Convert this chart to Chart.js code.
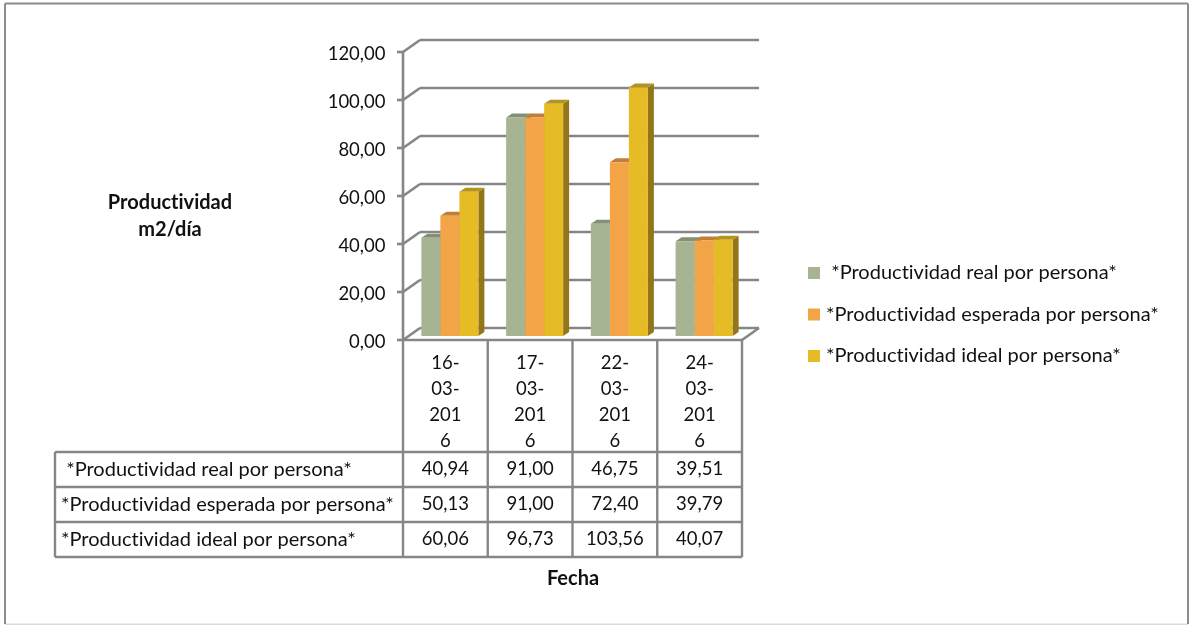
<!DOCTYPE html>
<html>
<head>
<meta charset="utf-8">
<style>
    html, body { margin: 0; padding: 0; background: #fff; }
    canvas { display: block; }
</style>
<script src="https://cdn.jsdelivr.net/npm/chart.js@4"></script>
</head>
<body>
<canvas id="prodChart" width="1190" height="625"></canvas>
<script>
// tick labels are wrapped the same way as the original
const categories = [
    ["16-", "03-", "201", "6"],
    ["17-", "03-", "201", "6"],
    ["22-", "03-", "201", "6"],
    ["24-", "03-", "201", "6"],
];
const seriesNames = [
    " *Productividad real por persona*",
    "*Productividad esperada por persona*",
    "*Productividad ideal por persona*",
];
const realValues = [40.94, 91.0, 46.75, 39.51];
const esperadaValues = [50.13, 91.0, 72.4, 39.79];
const idealValues = [60.06, 96.73, 103.56, 40.07];

const LINE = "#868686";
const TEXT = "#111111";
const FONT = "Lato";
const fmt = (v) => v.toFixed(2).replace(".", ",");

// bars sit between the front plane and the back wall
const FRONT = { x: -4.5, y: 4 };
const BACK = { x: 12.5, y: -8 };
const DEPTH = { x: 6, y: -4 };

function seg(ctx, x1, y1, x2, y2) {
    ctx.beginPath();
    ctx.moveTo(x1, y1);
    ctx.lineTo(x2, y2);
    ctx.stroke();
}

function poly(ctx, pts, color) {
    ctx.fillStyle = color;
    ctx.beginPath();
    pts.forEach((p, i) => (i ? ctx.lineTo(p[0], p[1]) : ctx.moveTo(p[0], p[1])));
    ctx.closePath();
    ctx.fill();
}

const box3d = {
    id: "box3d",
    beforeDatasetsDraw(chart) {
        const { ctx, chartArea, scales } = chart;
        const left = chartArea.left;
        const right = chartArea.right;

        // walls, floor and vertical axis
        ctx.save();
        ctx.strokeStyle = LINE;
        ctx.lineWidth = 2.6;
        scales.y.ticks.forEach((t) => {
            const py = scales.y.getPixelForValue(t.value);
            seg(ctx, left + FRONT.x - 6, py + FRONT.y, left + FRONT.x, py + FRONT.y);
            seg(ctx, left + FRONT.x, py + FRONT.y, left + BACK.x, py + BACK.y);
            seg(ctx, left + BACK.x, py + BACK.y, right + BACK.x, py + BACK.y);
        });
        const y0 = scales.y.getPixelForValue(0);
        const yMax = scales.y.getPixelForValue(120);
        seg(ctx, left + FRONT.x, yMax + FRONT.y, left + FRONT.x, y0 + FRONT.y);
        seg(ctx, left + FRONT.x, y0 + FRONT.y, right + FRONT.x, y0 + FRONT.y);
        seg(ctx, right + FRONT.x, y0 + FRONT.y, right + BACK.x, y0 + BACK.y);
        ctx.restore();

        // side and top faces, the library paints the fronts over them
        chart.data.datasets.forEach((ds, i) => {
            chart.getDatasetMeta(i).data.forEach((bar) => {
                const x1 = bar.x - bar.width / 2;
                const x2 = bar.x + bar.width / 2;
                poly(ctx, [[x2, bar.y], [x2 + DEPTH.x, bar.y + DEPTH.y], [x2 + DEPTH.x, bar.base + DEPTH.y], [x2, bar.base]], ds.sideColor);
                poly(ctx, [[x1, bar.y], [x1 + DEPTH.x, bar.y + DEPTH.y], [x2 + DEPTH.x, bar.y + DEPTH.y], [x2, bar.y]], ds.topColor);
            });
        });
    },
    afterDraw(chart) {
        const { ctx, chartArea, scales } = chart;
        const datasets = chart.data.datasets;
        const band = (chartArea.right - chartArea.left) / categories.length;
        const tableRight = chartArea.right + FRONT.x;
        const tableTop = chartArea.bottom + FRONT.y;
        const rowLines = [452, 487, 522, 557];
        const tableLeft = 55;

        ctx.save();
        // outer frame, the bottom edge is very faint
        ctx.strokeStyle = "#dcdcdc";
        ctx.lineWidth = 1.5;
        seg(ctx, 5, 624.2, 1188, 624.2);
        ctx.strokeStyle = "#8c8c8c";
        ctx.lineWidth = 2;
        seg(ctx, 5, 3.5, 1188, 3.5);
        seg(ctx, 5, 3.5, 5, 624);
        seg(ctx, 1188, 3.5, 1188, 624);

        // data table
        ctx.strokeStyle = LINE;
        ctx.lineWidth = 2.4;
        rowLines.forEach((y) => seg(ctx, tableLeft, y, tableRight, y));
        seg(ctx, tableLeft, rowLines[0], tableLeft, rowLines[3]);
        categories.forEach((c, i) => {
            const x = chartArea.left + FRONT.x + band * i;
            seg(ctx, x, tableTop, x, rowLines[3]);
        });
        seg(ctx, tableRight, tableTop, tableRight, rowLines[3]);

        // tiny spacing keeps Lato from joining the "ti" pairs
        ctx.letterSpacing = "0.01px";
        ctx.fillStyle = TEXT;
        ctx.textBaseline = "middle";
        datasets.forEach((ds, r) => {
            const y = (rowLines[r] + rowLines[r + 1]) / 2;
            ctx.font = "20px " + FONT;
            ctx.textAlign = "left";
            ctx.fillText(ds.label, tableLeft + 6, y);
            ctx.font = "18.5px " + FONT;
            ctx.textAlign = "center";
            ds.data.forEach((v, i) => ctx.fillText(fmt(v), scales.x.getPixelForValue(i) + FRONT.x, y));
        });

        // legend
        const legendY = [273, 314.5, 356];
        ctx.font = "20px " + FONT;
        ctx.textAlign = "left";
        datasets.forEach((ds, r) => {
            ctx.fillStyle = ds.backgroundColor;
            ctx.fillRect(808, legendY[r] - 6, 12, 12);
            ctx.fillStyle = TEXT;
            ctx.fillText(ds.label, 826, legendY[r]);
        });

        // axis titles
        ctx.font = "bold 20px " + FONT;
        ctx.textAlign = "center";
        ctx.fillText("Productividad", 170, 203);
        ctx.fillText("m2/día", 170, 230);
        ctx.fillText("Fecha", 573, 579);
        ctx.restore();
    },
};

function makeSeries(label, data, color, topColor, sideColor) {
    return { label, data, backgroundColor: color, topColor, sideColor, borderWidth: 0 };
}

new Chart(document.getElementById("prodChart").getContext("2d"), {
    type: "bar",
    data: {
        labels: categories,
        datasets: [
            makeSeries(seriesNames[0], realValues, "#A6B494", "#848F76", "#6B745F"),
            makeSeries(seriesNames[1], esperadaValues, "#F3A446", "#BF7F38", "#99662C"),
            makeSeries(seriesNames[2], idealValues, "#E5BC25", "#B3941F", "#93761A"),
        ],
    },
    plugins: [box3d],
    options: {
        responsive: false,
        animation: false,
        layout: { padding: { left: 300, right: 443.5, top: 48, bottom: 164 } },
        datasets: { bar: { categoryPercentage: 0.6726, barPercentage: 1 } },
        plugins: {
            legend: { display: false },
            title: { display: false },
            tooltip: { enabled: false },
        },
        scales: {
            x: {
                grid: { display: false, drawTicks: false },
                border: { display: false },
                afterFit: (s) => { s.height = 125; },
                ticks: {
                    color: TEXT,
                    autoSkip: false,
                    maxRotation: 0,
                    padding: 14,
                    labelOffset: FRONT.x,
                    font: { family: FONT, size: 18.5, lineHeight: 26 / 18.5 },
                },
            },
            y: {
                min: 0,
                max: 120,
                grid: { display: false, drawTicks: false },
                border: { display: false },
                afterFit: (s) => { s.width = 107.5; },
                ticks: {
                    stepSize: 20,
                    color: TEXT,
                    padding: 22,
                    labelOffset: 6,
                    callback: (v) => fmt(v),
                    font: { family: FONT, size: 18.5 },
                },
            },
        },
    },
});
</script>
</body>
</html>
